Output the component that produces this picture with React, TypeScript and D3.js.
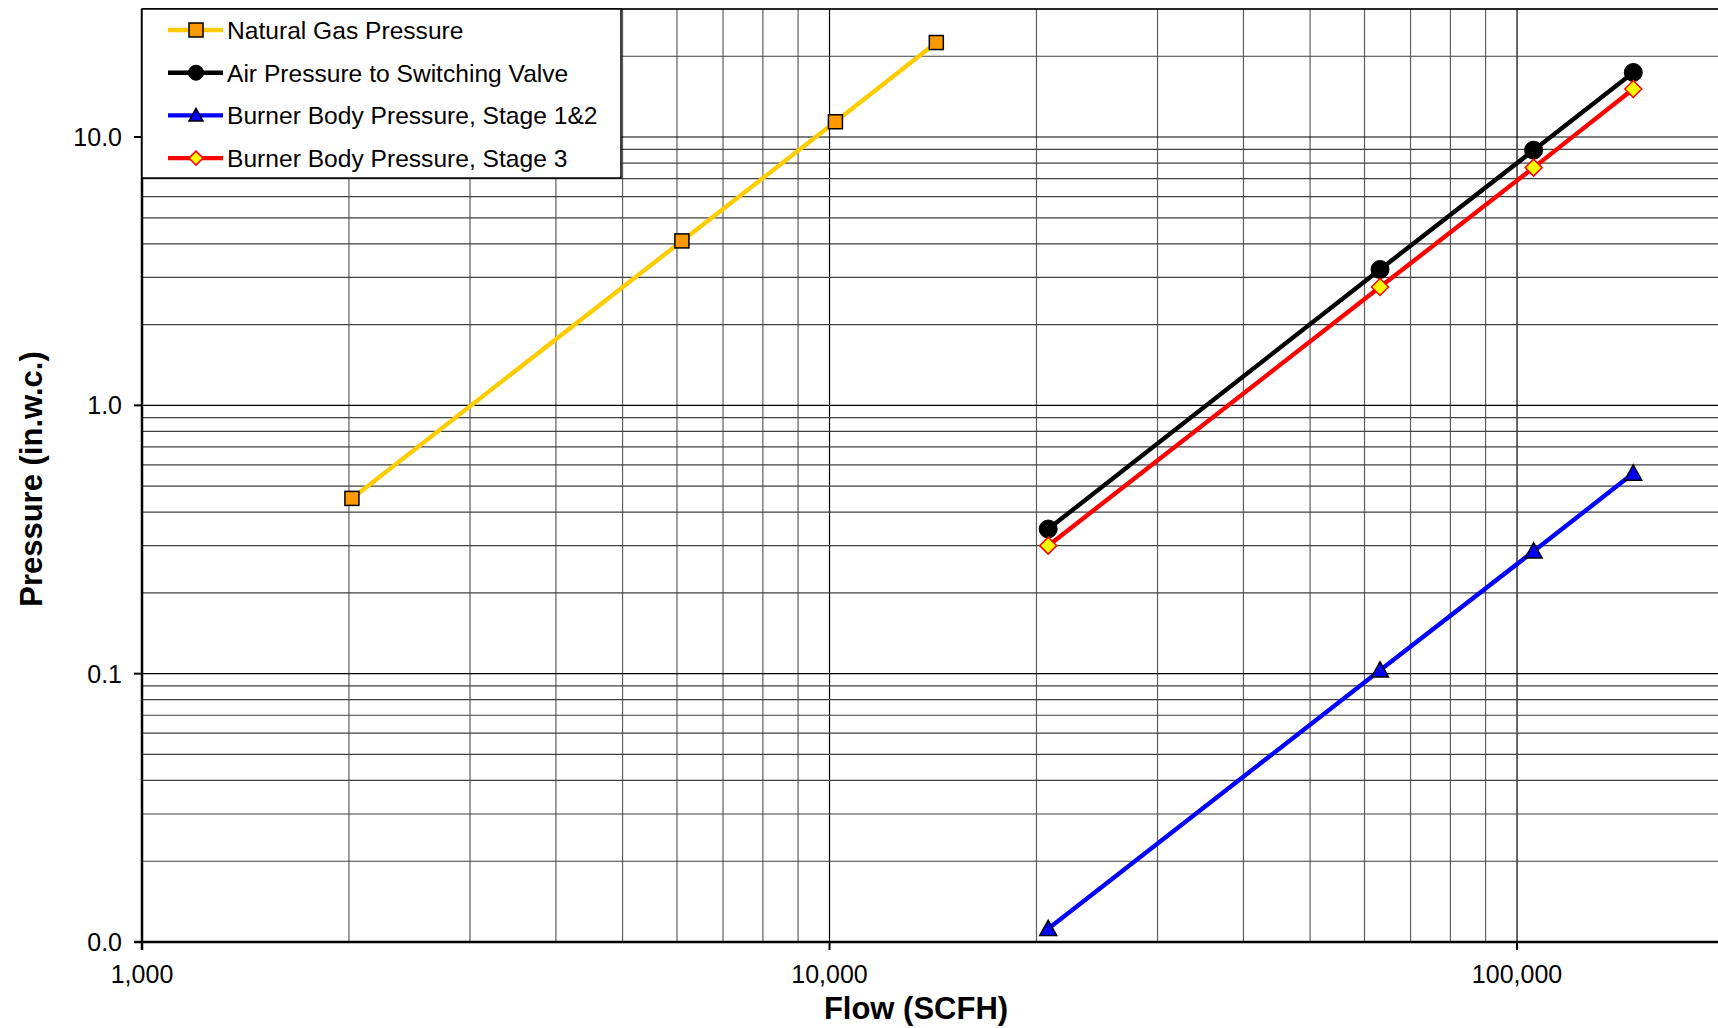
import * as d3 from 'd3';
import React, { useEffect, useRef } from 'react';

// Flow (SCFH) for each series
const gasFlow = [2020, 6100, 10200, 14300];
const airFlow = [20800, 63200, 105700, 147600];

// Pressure (in.w.c.)
const gasPressure = [0.45, 4.1, 11.4, 22.5];
const airPressure = [0.346, 3.21, 8.93, 17.4];
const stage12Pressure = [0.0112, 0.103, 0.286, 0.558];
const stage3Pressure = [0.3, 2.76, 7.69, 15.1];

const seriesNames = [
  'Natural Gas Pressure',
  'Air Pressure to Switching Valve',
  'Burner Body Pressure, Stage 1&2',
  'Burner Body Pressure, Stage 3'
];

const xTickValues = [1000, 10000, 100000];
const xTickLabels = ['1,000', '10,000', '100,000'];
const yTickValues = [0.01, 0.1, 1, 10];
const yTickLabels = ['0.0', '0.1', '1.0', '10.0'];

type Marker = 'square' | 'circle' | 'triangle' | 'diamond';

interface Series {
  name: string;
  x: number[];
  y: number[];
  color: string;
  marker: Marker;
  fill: string;
  stroke: string;
  size: number;
}

const series: Series[] = [
  { name: seriesNames[0], x: gasFlow, y: gasPressure, color: '#FFCC00', marker: 'square', fill: '#FF9900', stroke: '#000', size: 14 },
  { name: seriesNames[1], x: airFlow, y: airPressure, color: '#000000', marker: 'circle', fill: '#000', stroke: '#000', size: 18 },
  { name: seriesNames[2], x: airFlow, y: stage12Pressure, color: '#0000FF', marker: 'triangle', fill: '#0000FF', stroke: '#000', size: 17 },
  { name: seriesNames[3], x: airFlow, y: stage3Pressure, color: '#FF0000', marker: 'diamond', fill: '#FFFF00', stroke: '#FF0000', size: 17 }
];

const FONT = 'Arial, "Liberation Sans", sans-serif';

function drawMarker(g: d3.Selection<SVGGElement, unknown, null, undefined>, s: Series, cx: number, cy: number) {
  const h = s.size / 2;
  if (s.marker === 'square') {
    g.append('rect').attr('x', cx - h).attr('y', cy - h).attr('width', s.size).attr('height', s.size)
      .attr('fill', s.fill).attr('stroke', s.stroke).attr('stroke-width', 1.5);
  } else if (s.marker === 'circle') {
    g.append('circle').attr('cx', cx).attr('cy', cy).attr('r', h)
      .attr('fill', s.fill).attr('stroke', s.stroke).attr('stroke-width', 1);
  } else if (s.marker === 'triangle') {
    g.append('path')
      .attr('d', `M${cx},${cy - h} L${cx + h},${cy + h * 0.8} L${cx - h},${cy + h * 0.8} Z`)
      .attr('fill', s.fill).attr('stroke', s.stroke).attr('stroke-width', 1.5);
  } else {
    g.append('path')
      .attr('d', `M${cx},${cy - h} L${cx + h},${cy} L${cx},${cy + h} L${cx - h},${cy} Z`)
      .attr('fill', s.fill).attr('stroke', s.stroke).attr('stroke-width', 1.5);
  }
}

export default function App() {
  const svgRef = useRef<SVGSVGElement | null>(null);
  const width = 1718;
  const height = 1028;

  useEffect(() => {
    const svg = d3.select(svgRef.current);
    svg.selectAll('*').remove();

    // plot area
    const left = 142;
    const top = 9;
    const bottom = 942;
    const right = 1718;

    const x = d3.scaleLog().domain([1000, 200000]).range([left, 1724]);
    const y = d3.scaleLog().domain([0.01, 30]).range([bottom, top]);

    svg.append('rect').attr('width', width).attr('height', height).attr('fill', '#fff');

    const grid = svg.append('g');

    // minor + major gridlines
    const xGrid: number[] = [];
    const yGrid: number[] = [];
    [1000, 10000, 100000].forEach((d) => {
      for (let k = 1; k <= 9; k++) xGrid.push(d * k);
    });
    [0.01, 0.1, 1, 10].forEach((d) => {
      for (let k = 1; k <= 9; k++) yGrid.push(d * k);
    });

    grid.selectAll('.vg')
      .data(xGrid.filter((d) => d > 1000 && x(d) < right))
      .enter()
      .append('line')
      .attr('x1', (d) => x(d)).attr('x2', (d) => x(d))
      .attr('y1', top).attr('y2', bottom)
      .attr('stroke', (d) => (xTickValues.includes(d) ? '#000' : '#5e5e5e'))
      .attr('stroke-width', 1.2);

    grid.selectAll('.hg')
      .data(yGrid.filter((d) => d > 0.01 && d <= 30))
      .enter()
      .append('line')
      .attr('x1', left).attr('x2', right)
      .attr('y1', (d) => y(d)).attr('y2', (d) => y(d))
      .attr('stroke', (d) => (yTickValues.includes(d) ? '#000' : '#404040'))
      .attr('stroke-width', 1.2);

    // top border
    svg.append('line').attr('x1', left).attr('x2', right).attr('y1', top).attr('y2', top)
      .attr('stroke', '#000').attr('stroke-width', 1.5);

    // axes
    svg.append('line').attr('x1', left).attr('x2', left).attr('y1', top).attr('y2', bottom + 8)
      .attr('stroke', '#000').attr('stroke-width', 2.5);
    svg.append('line').attr('x1', left - 8).attr('x2', right).attr('y1', bottom).attr('y2', bottom)
      .attr('stroke', '#000').attr('stroke-width', 2.5);

    // y ticks
    yTickValues.forEach((v, i) => {
      svg.append('line').attr('x1', left - 8).attr('x2', left).attr('y1', y(v)).attr('y2', y(v))
        .attr('stroke', '#000').attr('stroke-width', 2);
      svg.append('text').attr('x', left - 20).attr('y', y(v)).attr('dy', '0.36em')
        .attr('text-anchor', 'end').style('font-family', FONT).style('font-size', '25px')
        .attr('fill', '#000').text(yTickLabels[i]);
    });

    // x ticks
    xTickValues.forEach((v, i) => {
      svg.append('line').attr('x1', x(v)).attr('x2', x(v)).attr('y1', bottom).attr('y2', bottom + 8)
        .attr('stroke', '#000').attr('stroke-width', 2);
      svg.append('text').attr('x', x(v)).attr('y', bottom + 41)
        .attr('text-anchor', 'middle').style('font-family', FONT).style('font-size', '25px')
        .attr('fill', '#000').text(xTickLabels[i]);
    });

    // axis titles
    svg.append('text').attr('x', 916).attr('y', 1019).attr('text-anchor', 'middle')
      .style('font-family', FONT).style('font-size', '31px').style('font-weight', 'bold')
      .text('Flow (SCFH)');
    svg.append('text').attr('transform', 'translate(42,479) rotate(-90)').attr('text-anchor', 'middle')
      .style('font-family', FONT).style('font-size', '31px').style('font-weight', 'bold')
      .text('Pressure (in.w.c.)');

    // series
    const line = d3.line<[number, number]>().x((d) => x(d[0])).y((d) => y(d[1]));
    series.forEach((s) => {
      const pts: [number, number][] = s.x.map((xv, i) => [xv, s.y[i]]);
      const g = svg.append('g');
      g.append('path').attr('d', line(pts)).attr('fill', 'none')
        .attr('stroke', s.color).attr('stroke-width', 4.4);
      pts.forEach((p) => drawMarker(g as any, s, x(p[0]), y(p[1])));
    });

    // legend
    const legend = svg.append('g');
    legend.append('rect').attr('x', left).attr('y', top).attr('width', 479).attr('height', 169)
      .attr('fill', '#fff').attr('stroke', '#000').attr('stroke-width', 1.5);
    series.forEach((s, i) => {
      const ly = 30 + i * 42.7;
      legend.append('line').attr('x1', 168).attr('x2', 223).attr('y1', ly).attr('y2', ly)
        .attr('stroke', s.color).attr('stroke-width', 4.4);
      drawMarker(legend as any, { ...s, size: s.marker === 'circle' ? 15 : 14 }, 196, ly);
      legend.append('text').attr('x', 227).attr('y', ly).attr('dy', '0.36em')
        .style('font-family', FONT).style('font-size', '24.6px').attr('fill', '#000').text(s.name);
    });
  }, []);

  return (
    <div style={{ position: 'absolute', left: 0, top: 0 }}>
      <svg ref={svgRef} width={width} height={height} style={{ display: 'block' }} />
    </div>
  );
}
